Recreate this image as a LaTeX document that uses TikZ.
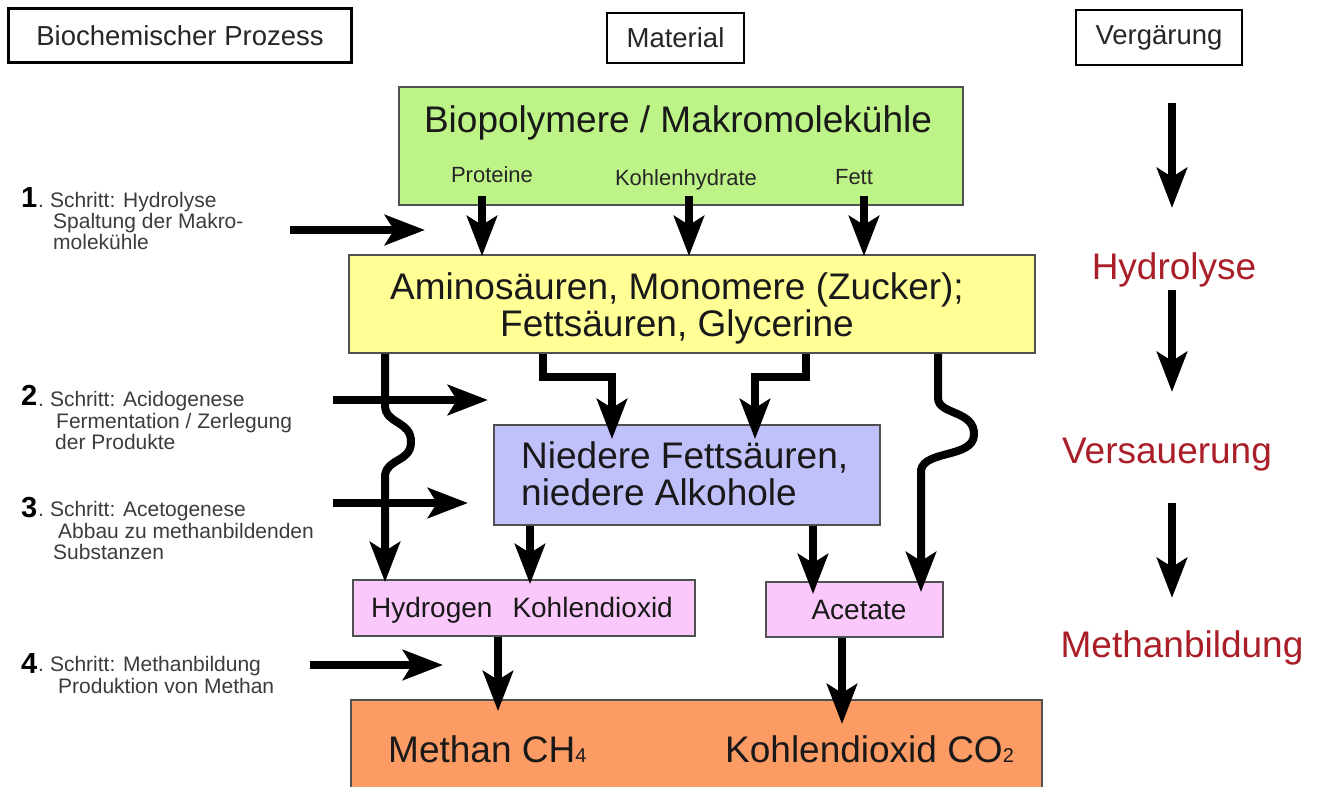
\documentclass[tikz,border=0pt]{standalone}
\usepackage{fontspec}
\setmainfont{Liberation Sans}
\usetikzlibrary{arrows.meta}
\definecolor{gbox}{RGB}{190,244,135}
\definecolor{ybox}{RGB}{255,255,150}
\definecolor{bbox}{RGB}{192,192,250}
\definecolor{pbox}{RGB}{250,200,250}
\definecolor{obox}{RGB}{253,155,100}
\definecolor{redt}{RGB}{170,30,40}
\definecolor{stept}{RGB}{60,60,60}
\definecolor{bord}{RGB}{80,80,80}
\newcommand{\fsz}[1]{\fontsize{#1}{#1}\selectfont}
\begin{document}
\begin{tikzpicture}[x=1pt,y=-1pt,
  every node/.style={inner sep=0pt},
  box/.style={draw=bord,line width=1.8pt},
  hdr/.style={draw=black,line width=2.6pt,font=\fsz{27.5},text=black!85},
  big/.style={font=\fsz{37},text=black!90},
  sublbl/.style={font=\fsz{22},text=black!85},
  mid/.style={font=\fsz{28},text=black!90},
  phase/.style={font=\fsz{37},text=redt},
  steptxt/.style={font=\fsz{21},text=stept,anchor=base west},
  stepnum/.style={font=\bfseries\fsz{29},anchor=base west},
  arr/.style={line width=8pt,-{Stealth[length=40pt,width=30pt,inset=9pt]}},
]
\useasboundingbox (0,0) rectangle (1320,787);
\fill[white] (0,0) rectangle (1320,787);
\clip (0,0) rectangle (1320,787);

% headers
\node[hdr,minimum width=343pt,minimum height=54pt] (hbio) at (180,35.5) {Biochemischer Prozess};
\node[hdr,minimum width=137pt,minimum height=50pt] (hmat) at (675.5,38) {Material};
\node[hdr,minimum width=166pt,minimum height=55pt] (hver) at (1159,37.5) {Vergärung};

% boxes
\node[box,fill=gbox,minimum width=564pt,minimum height=118pt] (green) at (681,146) {};
\node[box,fill=ybox,minimum width=686pt,minimum height=98pt] (yellow) at (692,304) {};
\node[box,fill=bbox,minimum width=386pt,minimum height=100pt] (blue) at (687,475) {};
\node[box,fill=pbox,minimum width=342pt,minimum height=56pt] (pink1) at (524,608) {};
\node[box,fill=pbox,minimum width=177pt,minimum height=55pt] (pink2) at (854.5,609.5) {};
\node[box,fill=obox,minimum width=691pt,minimum height=110pt] (orange) at (696.5,755) {};

% texts
\node[big] (gtitle) at (678,123) {Biopolymere / Makromolekühle};
\node[sublbl] (prot) at (492,175) {Proteine};
\node[sublbl] (kohl) at (686,180) {Kohlenhydrate};
\node[sublbl] (fett) at (854,177) {Fett};
\node[big,align=center] (ytext) at (677,308.5) {Aminosäuren, Monomere (Zucker);\\Fettsäuren, Glycerine};
\node[big,align=left,anchor=west] (btext) at (521,474) {Niedere Fettsäuren,\\niedere Alkohole};
\node[mid] (ptext) at (522,610) {Hydrogen\hspace{20pt}Kohlendioxid};
\node[mid] (atext) at (859,610) {Acetate};
\node[big,anchor=base west] (ometh) at (388,762) {Methan CH{\fsz{20}4}};
\node[big,anchor=base west] (oco) at (725,762) {Kohlendioxid CO{\fsz{20}2}};

% right column
\node[phase] (hyd) at (1174,270) {Hydrolyse};
\node[phase] (vers) at (1167,455) {Versauerung};
\node[phase] (meth) at (1182,648) {Methanbildung};
\coordinate (r1a) at (1172,103); \coordinate (r1b) at (1172,208);
\coordinate (r2a) at (1172,290); \coordinate (r2b) at (1172,392);
\coordinate (r3a) at (1172,503); \coordinate (r3b) at (1172,598);
\draw[arr] (r1a) -- (r1b);
\draw[arr] (r2a) -- (r2b);
\draw[arr] (r3a) -- (r3b);

% steps
\node[stepnum] (n1) at (21,207) {1};
\node[steptxt] (t1a) at (38,207) {.\hspace{6pt}Schritt: Hydrolyse};
\node[steptxt] (t1b) at (53,228) {Spaltung der Makro-};
\node[steptxt] (t1c) at (53,249) {molekühle};
\node[stepnum] (n2) at (21,405) {2};
\node[steptxt] (t2a) at (38,406) {.\hspace{6pt}Schritt: Acidogenese};
\node[steptxt] (t2b) at (56,428) {Fermentation / Zerlegung};
\node[steptxt] (t2c) at (55,449) {der Produkte};
\node[stepnum] (n3) at (21,517) {3};
\node[steptxt] (t3a) at (38,516) {.\hspace{6pt}Schritt: Acetogenese};
\node[steptxt] (t3b) at (58,538) {Abbau zu methanbildenden};
\node[steptxt] (t3c) at (53,559) {Substanzen};
\node[stepnum] (n4) at (21,673) {4};
\node[steptxt] (t4a) at (38,671) {.\hspace{6pt}Schritt: Methanbildung};
\node[steptxt] (t4b) at (58,693) {Produktion von Methan};

\coordinate (s1a) at (290,230); \coordinate (s1b) at (425,230);
\coordinate (s2a) at (333,400); \coordinate (s2b) at (488,400);
\coordinate (s3a) at (333,503); \coordinate (s3b) at (468,503);
\coordinate (s4a) at (310,665); \coordinate (s4b) at (443,665);
\draw[arr] (s1a) -- (s1b);
\draw[arr] (s2a) -- (s2b);
\draw[arr] (s3a) -- (s3b);
\draw[arr] (s4a) -- (s4b);

% green -> yellow
\draw[arr,shorten <=-10pt,shorten >=-2pt] (green.south -| 482,0) -- (yellow.north -| 482,0);
\draw[arr,shorten <=-10pt,shorten >=-2pt] (green.south -| 689,0) -- (yellow.north -| 689,0);
\draw[arr,shorten <=-10pt,shorten >=-2pt] (green.south -| 864,0) -- (yellow.north -| 864,0);

% yellow -> blue / pink
\draw[arr] (yellow.south -| 385,0) -- (385,405) .. controls (385,425) and (412,420) .. (411,443) .. controls (410,462) and (388,458) .. (385,475) -- ([yshift=-3pt]pink1.north -| 385,0);
\draw[arr,line join=miter] (yellow.south -| 543,0) -- (543,377) -- (612,377) -- ([yshift=-15pt]blue.north -| 612,0);
\draw[arr,line join=miter] (yellow.south -| 806,0) -- (806,377) -- (755,377) -- ([yshift=-15pt]blue.north -| 755,0);
\draw[arr] (yellow.south -| 938,0) -- (938,398) .. controls (938,415) and (975,410) .. (974,435) .. controls (973,458) and (925,450) .. (921,470) -- ([yshift=-11pt]pink2.north -| 921,0);

% blue -> pink
\draw[arr] (blue.south -| 530,0) -- ([yshift=-5pt]pink1.north -| 530,0);
\draw[arr] (blue.south -| 813,0) -- ([yshift=-13pt]pink2.north -| 813,0);

% pink -> orange
\draw[arr] (pink1.south -| 498,0) -- ([yshift=-12pt]orange.north -| 498,0);
\draw[arr] (pink2.south -| 842,0) -- ([yshift=-25pt]orange.north -| 842,0);
\end{tikzpicture}
\end{document}
